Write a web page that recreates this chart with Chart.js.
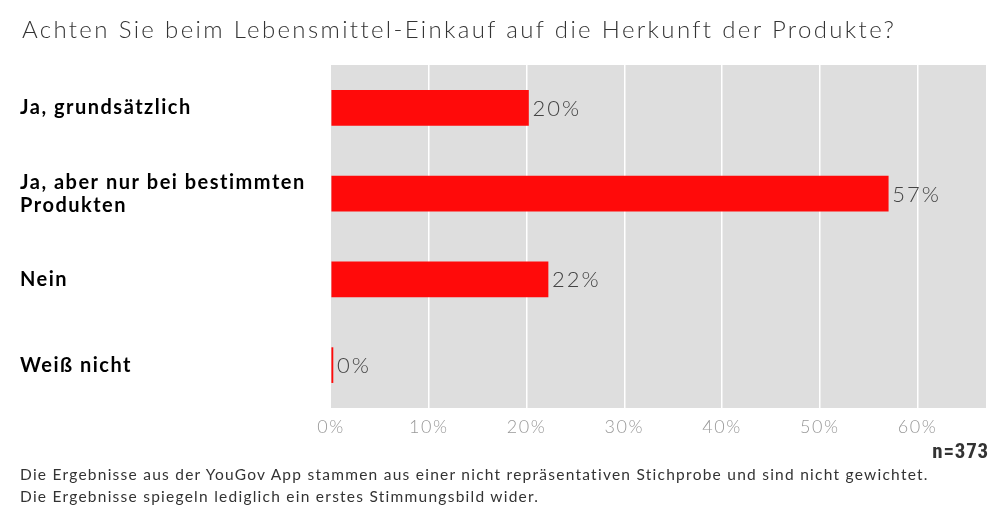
<!DOCTYPE html>
<html>
<head>
<meta charset="utf-8">
<script src="https://cdn.jsdelivr.net/npm/chart.js@4.4.1/dist/chart.umd.min.js"></script>
<style>
  html, body { margin: 0; padding: 0; background: #fff; }
  #wrap { position: relative; width: 1000px; height: 515px; overflow: hidden; font-family: Lato, "Open Sans", sans-serif; }
  #c { position: absolute; left: 0; top: 0; }
  #title { position: absolute; left: 22px; top: 14px; font-size: 24px; font-weight: 300; color: #333; white-space: nowrap; letter-spacing: 2.35px; }
  #n { position: absolute; right: 11px; top: 439px; font-size: 21px; font-weight: 700; color: #333; letter-spacing: 0.8px; font-family: "Roboto Condensed", "Liberation Sans Narrow", Roboto, sans-serif; }
  #foot { position: absolute; left: 20px; top: 463px; font-size: 15.5px; line-height: 22px; color: #333; font-weight: 400; letter-spacing: 1.25px; white-space: nowrap; }
</style>
</head>
<body>
<div id="wrap">
  <canvas id="c" width="1000" height="515"></canvas>
  <div id="title">Achten Sie beim Lebensmittel-Einkauf auf die Herkunft der Produkte?</div>
  <div id="n">n=373</div>
  <div id="foot">Die Ergebnisse aus der YouGov App stammen aus einer nicht repräsentativen Stichprobe und sind nicht gewichtet.<br>Die Ergebnisse spiegeln lediglich ein erstes Stimmungsbild wider.</div>
</div>
<script>
const categories = [
  "Ja, grundsätzlich",
  ["Ja, aber nur bei bestimmten", "Produkten"],
  "Nein",
  "Weiß nicht"
];
const values = [20.2, 57.0, 22.2, 0.2];
const valueLabels = ["20%", "57%", "22%", "0%"];
const xTicks = [0, 10, 20, 30, 40, 50, 60];
const xMax = 67;

const bgPlugin = {
  id: 'bgPlugin',
  beforeDraw(chart) {
    const a = chart.chartArea, ctx = chart.ctx;
    ctx.save();
    ctx.fillStyle = '#dedede';
    ctx.fillRect(a.left, a.top, a.right - a.left, a.bottom - a.top);
    ctx.restore();
    ctx.letterSpacing = '1.5px';
  },
  beforeDatasetsDraw(chart) {
    chart.ctx.letterSpacing = '0px';
  }
};

const labelPlugin = {
  id: 'labelPlugin',
  afterDatasetsDraw(chart) {
    const ctx = chart.ctx;
    const meta = chart.getDatasetMeta(0);
    ctx.save();
    ctx.letterSpacing = '2px';
    ctx.font = '300 22px Lato';
    ctx.fillStyle = '#444';
    ctx.textBaseline = 'middle';
    ctx.textAlign = 'left';
    meta.data.forEach((bar, i) => {
      ctx.fillText(valueLabels[i], bar.x + 4, bar.y + 1);
    });
    ctx.restore();
  }
};

new Chart(document.getElementById('c'), {
  type: 'bar',
  data: {
    labels: categories,
    datasets: [{
      data: values,
      backgroundColor: '#ff0a0a',
      borderWidth: 0,
      barThickness: 35
    }]
  },
  options: {
    indexAxis: 'y',
    responsive: false,
    animation: false,
    devicePixelRatio: 1,
    layout: { padding: { left: 20, top: 65, right: 14, bottom: 77 } },
    plugins: { legend: { display: false }, tooltip: { enabled: false }, title: { display: false } },
    scales: {
      x: {
        min: 0,
        max: xMax,
        afterBuildTicks(scale) { scale.ticks = xTicks.map(v => ({ value: v })); },
        afterFit(scale) { scale.height = 30; },
        ticks: {
          padding: 8,
          color: '#999999',
          font: { family: 'Lato', size: 18, weight: 300 },
          callback: v => v + '%'
        },
        grid: {
          color: ctx => (ctx.index === 0 ? 'rgba(0,0,0,0)' : '#ffffff'),
          lineWidth: 1.5,
          drawTicks: false
        },
        border: { display: false }
      },
      y: {
        afterFit(scale) { scale.width = 311; },
        ticks: {
          crossAlign: 'far',
          color: '#000',
          padding: 0,
          font: { family: 'Lato', size: 20, weight: 'bold', lineHeight: 1.15 }
        },
        grid: { display: false, drawTicks: false },
        border: { display: false }
      }
    }
  },
  plugins: [bgPlugin, labelPlugin]
});
</script>
</body>
</html>
